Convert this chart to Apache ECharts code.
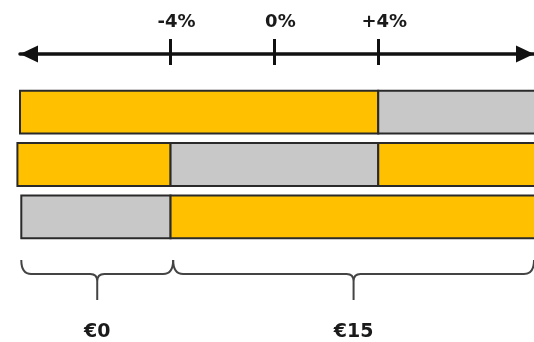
<!DOCTYPE html>
<html>
<head>
<meta charset="utf-8">
<script src="https://cdn.jsdelivr.net/npm/echarts@6/dist/echarts.min.js"></script>
<style>
  html, body { margin: 0; padding: 0; background: #ffffff; }
  #chart { width: 534px; height: 342px; }
</style>
</head>
<body>
<div id="chart"></div>
<script>
// Price-change scale shown above the bars
const tickValues = [-4, 0, 4];
const tickLabels = ['-4%', '0%', '+4%'];
const scaleMin = -9.8;
const scaleMax = 10;

// Rows of the band diagram
const categories = ['Row 1', 'Row 2', 'Row 3'];

// Segments: which row, where it starts and ends (in %), and its fill
const segRow  = [0, 0, 1, 1, 1, 2, 2];
const segFrom = [-9.8, 4, -9.9, -4, 4, -9.75, -4];
const segTo   = [4, 10.1, -4, 4, 10.1, -4, 10.1];
const segKind = ['gold', 'grey', 'gold', 'grey', 'gold', 'grey', 'gold'];

// Braces under the bars and the amount each one stands for
const braceFrom   = [-9.75, -3.9];
const braceTo     = [-3.9, 10];
const braceLabels = ['€0', '€15'];

const fills = { gold: '#FFC000', grey: '#C8C8C8' };
const labelFont = '"DejaVu Sans", Verdana, sans-serif';

const segData = segRow.map((r, i) => [r, segFrom[i], segTo[i], segKind[i]]);
const braceData = braceFrom.map((f, i) => [f, braceTo[i], 0, braceLabels[i]]);

function renderSegment(params, api) {
  const row = api.value(0);
  const p0 = api.coord([api.value(1), row]);
  const p1 = api.coord([api.value(2), row]);
  const h = api.size([0, 1])[1] * 0.82;
  const kind = segData[params.dataIndex][3];
  return {
    type: 'rect',
    shape: { x: p0[0], y: p0[1] - h / 2, width: p1[0] - p0[0], height: h },
    style: { fill: fills[kind], stroke: '#2a2a2a', lineWidth: 2 }
  };
}

function renderBrace(params, api) {
  const x0 = api.coord([api.value(0), 0])[0];
  const x1 = api.coord([api.value(1), 0])[0];
  const xc = (x0 + x1) / 2;
  const base = params.coordSys.y + params.coordSys.height;
  const top = base + 17, mid = base + 31, tip = base + 57;
  const r = 10, c = 7;
  const d =
    'M' + x0 + ' ' + top + ' Q' + x0 + ' ' + mid + ' ' + (x0 + r) + ' ' + mid +
    ' L' + (xc - c) + ' ' + mid + ' Q' + xc + ' ' + mid + ' ' + xc + ' ' + (mid + c) +
    ' M' + x1 + ' ' + top + ' Q' + x1 + ' ' + mid + ' ' + (x1 - r) + ' ' + mid +
    ' L' + (xc + c) + ' ' + mid + ' Q' + xc + ' ' + mid + ' ' + xc + ' ' + (mid + c) +
    ' L' + xc + ' ' + tip;
  return {
    type: 'group',
    children: [
      {
        type: 'path',
        shape: { pathData: d },
        style: { fill: 'none', stroke: '#444444', lineWidth: 2 }
      },
      {
        type: 'text',
        style: {
          text: braceData[params.dataIndex][3],
          x: xc, y: base + 89,
          align: 'center', verticalAlign: 'middle',
          font: 'bold 19px ' + labelFont,
          fill: '#1a1a1a'
        }
      }
    ]
  };
}

const chart = echarts.init(document.getElementById('chart'), null, { renderer: 'canvas' });
chart.setOption({
  animation: false,
  backgroundColor: '#ffffff',
  grid: { left: 20, top: 86, width: 515, height: 157 },
  xAxis: [
    {
      type: 'value', position: 'top', offset: 32,
      min: scaleMin, max: scaleMax,
      splitLine: { show: false },
      axisLine: {
        show: true,
        lineStyle: { color: '#111111', width: 3.5 },
        symbol: ['triangle', 'triangle'],
        symbolSize: [17, 18],
        symbolOffset: [9, -9]
      },
      axisTick: {
        show: true, length: 15, customValues: tickValues,
        lineStyle: { color: '#111111', width: 3 }
      },
      axisLabel: {
        show: true, customValues: tickValues, margin: 23,
        formatter: v => tickLabels[tickValues.indexOf(v)],
        fontFamily: labelFont, fontWeight: 'bold', fontSize: 18,
        color: '#1a1a1a', padding: [0, 0, 0, 12]
      }
    },
    {
      type: 'value', position: 'top', offset: 32,
      min: scaleMin, max: scaleMax,
      splitLine: { show: false },
      axisLine: { show: false },
      axisTick: {
        show: true, inside: true, length: 11, customValues: tickValues,
        lineStyle: { color: '#111111', width: 3 }
      },
      axisLabel: { show: false }
    }
  ],
  yAxis: {
    type: 'category', data: categories, inverse: true, show: false
  },
  series: [
    {
      type: 'custom', name: 'segments',
      renderItem: renderSegment,
      encode: { x: [1, 2], y: 0 },
      data: segData,
      clip: false
    },
    {
      type: 'custom', name: 'braces',
      renderItem: renderBrace,
      encode: { x: [0, 1] },
      data: braceData,
      clip: false
    }
  ]
});
</script>
</body>
</html>
